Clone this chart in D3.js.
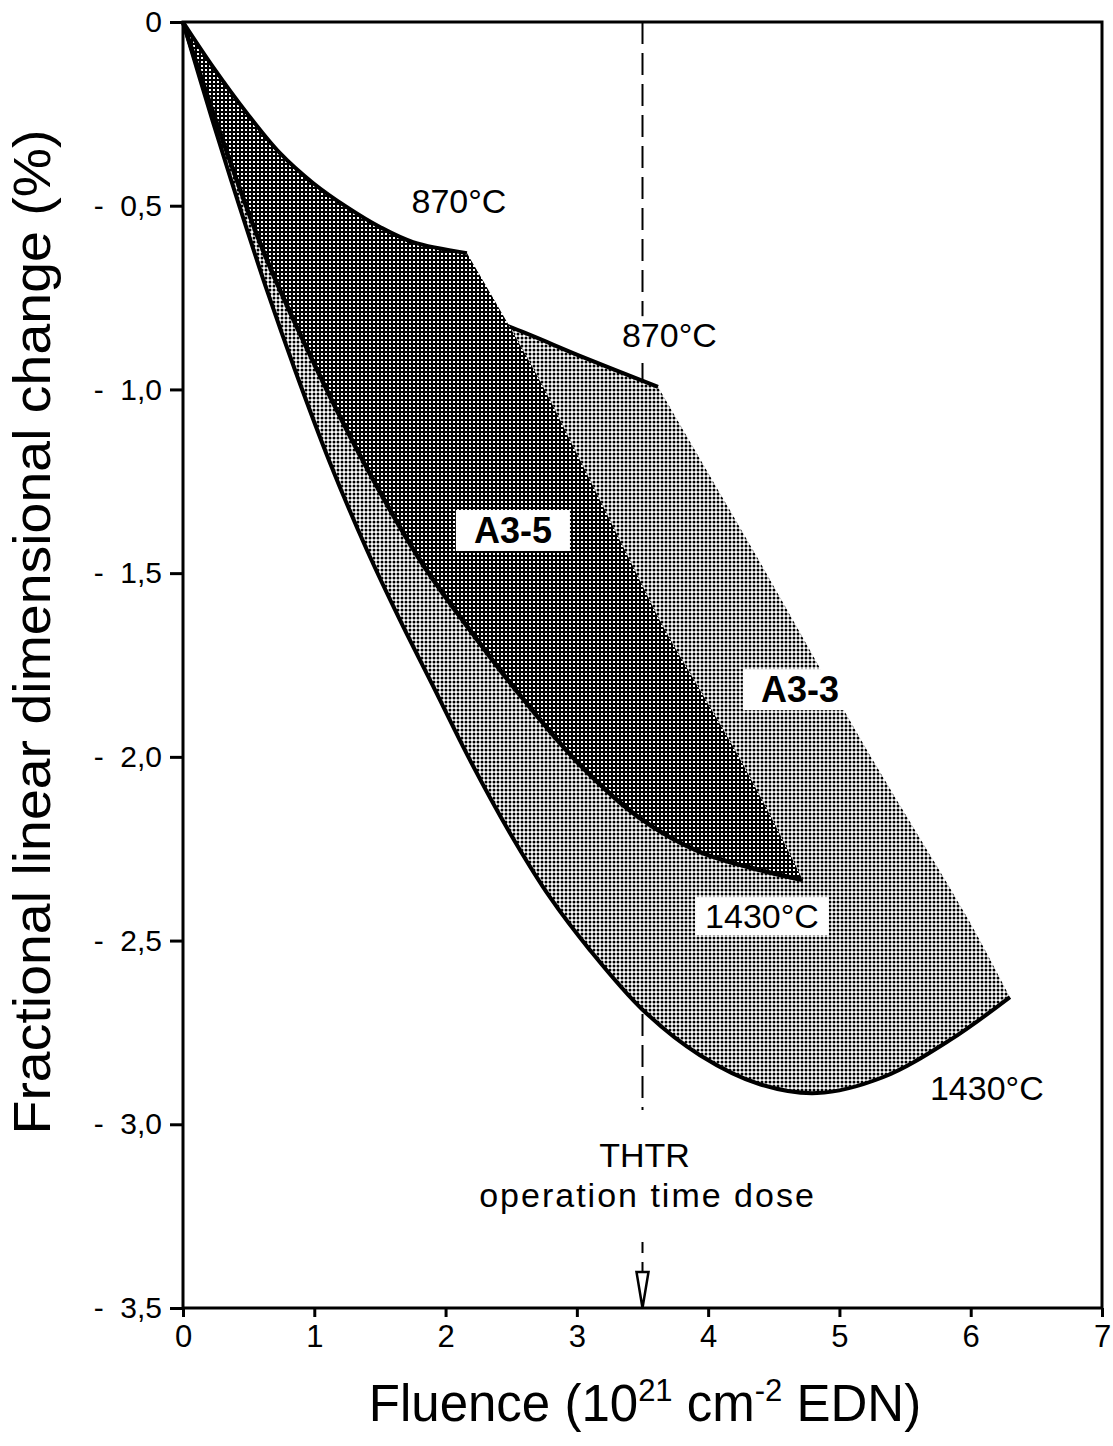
<!DOCTYPE html>
<html>
<head>
<meta charset="utf-8">
<script src="https://cdn.jsdelivr.net/npm/d3@7"></script>
<style>
  body { margin: 0; background: #fff; }
  svg { display: block; }
  text { font-family: "Liberation Sans", Arial, Helvetica, sans-serif; fill: #000; }
</style>
</head>
<body>
<svg id="chart" width="1113" height="1446"></svg>
<script>
// ---- Axis ticks ----
const fluenceTicks = [0, 1, 2, 3, 4, 5, 6, 7];
const changeTicks = [0, -0.5, -1.0, -1.5, -2.0, -2.5, -3.0, -3.5];
const changeTickLabels = ["0", "-  0,5", "-  1,0", "-  1,5", "-  2,0", "-  2,5", "-  3,0", "-  3,5"];

// ---- A3-5 scatter band [fluence, change %] ----
const a35Upper870 = [[0, 0], [0.228, -0.122], [0.487, -0.248], [0.739, -0.357], [0.99, -0.438],
  [1.249, -0.504], [1.50, -0.558], [1.752, -0.599], [2.163, -0.629]];
const a35Edge = [[2.163, -0.629], [2.49, -0.830], [2.757, -1.002], [2.986, -1.165], [3.214, -1.328],
  [3.442, -1.492], [3.671, -1.655], [3.938, -1.818], [4.204, -1.981], [4.471, -2.158], [4.722, -2.335]];
const a35Lower1430 = [[0, 0], [0.228, -0.245], [0.609, -0.621], [0.967, -0.906], [1.348, -1.179],
  [1.805, -1.464], [2.186, -1.655], [2.567, -1.832], [3.024, -2.022], [3.481, -2.167],
  [3.938, -2.259], [4.394, -2.308], [4.722, -2.335]];

// ---- A3-3 scatter band [fluence, change %] ----
const a33Upper870 = [[0, 0], [0.5, -0.38], [1.0, -0.58], [1.5, -0.70], [2.0, -0.77],
  [2.49, -0.830], [3.046, -0.912], [3.618, -0.993]];
const a33Edge = [[3.618, -0.993], [4.372, -1.456], [5.209, -1.981], [5.971, -2.436], [6.299, -2.654]];
const a33Lower1430 = [[0, 0], [0.228, -0.272], [0.434, -0.506], [0.647, -0.738], [0.853, -0.947],
  [1.120, -1.200], [1.401, -1.437], [1.653, -1.628], [1.904, -1.807], [2.186, -2.009],
  [2.490, -2.207], [2.795, -2.382], [3.100, -2.526], [3.503, -2.689], [3.938, -2.812],
  [4.394, -2.891], [4.829, -2.915], [5.331, -2.872], [5.841, -2.771], [6.299, -2.654]];

// THTR operation time dose
const thtrDose = 3.5;

const svg = d3.select("#chart");
const x = d3.scaleLinear().domain([0, 7]).range([183, 1102]);
const y = d3.scaleLinear().domain([0, -3.5]).range([22, 1308]);

// ---- halftone fills ----
const defs = svg.append("defs");
const light = defs.append("pattern").attr("id", "toneLight")
  .attr("patternUnits", "userSpaceOnUse").attr("width", 4).attr("height", 4);
light.append("rect").attr("width", 4).attr("height", 4).attr("fill", "#fff");
light.append("circle").attr("cx", 2).attr("cy", 2).attr("r", 1.5).attr("fill", "#000");

const dark = defs.append("pattern").attr("id", "toneDark")
  .attr("patternUnits", "userSpaceOnUse").attr("width", 4).attr("height", 4);
dark.append("rect").attr("width", 4).attr("height", 4).attr("fill", "#000");
dark.append("rect").attr("x", 1).attr("y", 1).attr("width", 2).attr("height", 2).attr("fill", "#fff");

// ---- frame & axes ----
svg.append("rect")
  .attr("x", x(0)).attr("y", y(0))
  .attr("width", x(7) - x(0)).attr("height", y(-3.5) - y(0))
  .attr("fill", "none").attr("stroke", "#000").attr("stroke-width", 3);

const yAxis = d3.axisLeft(y).tickValues(changeTicks)
  .tickFormat((d, i) => changeTickLabels[i]).tickSize(13).tickPadding(8);
const gy = svg.append("g").attr("transform", `translate(${x(0)},0)`).call(yAxis);
gy.select(".domain").remove();
gy.selectAll(".tick line").attr("stroke", "#000").attr("stroke-width", 3);
gy.selectAll(".tick text").attr("font-size", 30).style("white-space", "pre")
  .attr("font-family", "\"Liberation Sans\", Arial, sans-serif");

const xAxis = d3.axisBottom(x).tickValues(fluenceTicks).tickFormat(d3.format("d"))
  .tickSize(9).tickPadding(8);
const gx = svg.append("g").attr("transform", `translate(0,${y(-3.5)})`).call(xAxis);
gx.select(".domain").remove();
gx.selectAll(".tick line").attr("stroke", "#000").attr("stroke-width", 3);
gx.selectAll(".tick text").attr("font-size", 31)
  .attr("font-family", "\"Liberation Sans\", Arial, sans-serif");

// ---- THTR dose marker ----
svg.append("line")
  .attr("x1", x(thtrDose)).attr("x2", x(thtrDose))
  .attr("y1", y(0)).attr("y2", y(-3.5) - 34)
  .attr("stroke", "#000").attr("stroke-width", 2).attr("stroke-dasharray", "22,9");
svg.append("path")
  .attr("d", `M${x(thtrDose) - 6},${y(-3.5) - 36} L${x(thtrDose) + 6},${y(-3.5) - 36} L${x(thtrDose)},${y(-3.5)} Z`)
  .attr("fill", "#fff").attr("stroke", "#000").attr("stroke-width", 2.5).attr("stroke-linejoin", "miter");

// ---- bands ----
const lineGen = d3.line().x(d => x(d[0])).y(d => y(d[1])).curve(d3.curveCatmullRom.alpha(0.5));
function outline(...segs) {
  return segs.map((s, i) => {
    const p = lineGen(s);
    return i === 0 ? p : p.replace(/^M/, "L");
  }).join("") + "Z";
}
const rev = a => a.slice().reverse();

svg.append("path")
  .attr("d", outline(a33Lower1430, rev(a33Edge), rev(a33Upper870)))
  .attr("fill", "url(#toneLight)");
svg.append("path").attr("d", lineGen(a33Upper870))
  .attr("fill", "none").attr("stroke", "#000").attr("stroke-width", 4);
svg.append("path").attr("d", lineGen(a33Lower1430))
  .attr("fill", "none").attr("stroke", "#000").attr("stroke-width", 4);

svg.append("path")
  .attr("d", outline(a35Upper870, a35Edge, rev(a35Lower1430)))
  .attr("fill", "url(#toneDark)");
svg.append("path").attr("d", lineGen(a35Upper870))
  .attr("fill", "none").attr("stroke", "#000").attr("stroke-width", 4);
svg.append("path").attr("d", lineGen(a35Lower1430))
  .attr("fill", "none").attr("stroke", "#000").attr("stroke-width", 4.5);

// ---- labels ----
function label(txt, fx, fy, opts = {}) {
  const g = svg.append("g");
  const t = g.append("text")
    .attr("x", x(fx)).attr("y", y(fy))
    .attr("text-anchor", "middle")
    .attr("font-size", opts.size || 34)
    .attr("font-weight", opts.bold ? "bold" : "normal")
    .text(txt);
  if (opts.box) {
    const b = t.node().getBBox();
    const px = opts.padX || 0, py = opts.padY || 0;
    g.insert("rect", "text")
      .attr("x", b.x - px).attr("y", b.y - py)
      .attr("width", b.width + 2 * px).attr("height", b.height + 2 * py)
      .attr("fill", "#fff");
  }
  return g;
}

label("870°C", 2.102, -0.520);
label("870°C", 3.705, -0.885, { box: true, padX: 6, padY: 0 });
label("A3-5", 2.513, -1.418, { bold: true, size: 36, box: true, padX: 18, padY: 0 });
label("A3-3", 4.699, -1.851, { bold: true, size: 36, box: true, padX: 18, padY: 0 });
label("1430°C", 4.41, -2.466, { box: true, padX: 10, padY: 0 });
label("1430°C", 6.123, -2.934);

// dose annotation
const ann = svg.append("g");
const annBg = ann.append("rect").attr("fill", "#fff");
ann.append("text").attr("x", x(thtrDose) + 2).attr("y", 1167)
  .attr("text-anchor", "middle").attr("font-size", 34).text("THTR");
ann.append("text").attr("x", x(thtrDose) + 5).attr("y", 1207)
  .attr("text-anchor", "middle").attr("font-size", 34).attr("letter-spacing", 2)
  .text("operation time dose");
const ab = ann.node().getBBox();
annBg.attr("x", ab.x).attr("y", 1110).attr("width", ab.width).attr("height", 132);

// ---- axis titles ----
const xt = svg.append("text")
  .attr("x", 645).attr("y", 1421).attr("text-anchor", "middle").attr("font-size", 51);
xt.append("tspan").text("Fluence (10");
xt.append("tspan").attr("dy", -20).attr("font-size", 31).text("21");
xt.append("tspan").attr("dy", 20).text(" cm");
xt.append("tspan").attr("dy", -20).attr("font-size", 31).text("-2");
xt.append("tspan").attr("dy", 20).text(" EDN)");

svg.append("text")
  .attr("transform", "translate(50,632) rotate(-90)")
  .attr("text-anchor", "middle").attr("font-size", 52)
  .attr("textLength", 1005).attr("lengthAdjust", "spacingAndGlyphs")
  .text("Fractional linear dimensional change (%)");
</script>
</body>
</html>
